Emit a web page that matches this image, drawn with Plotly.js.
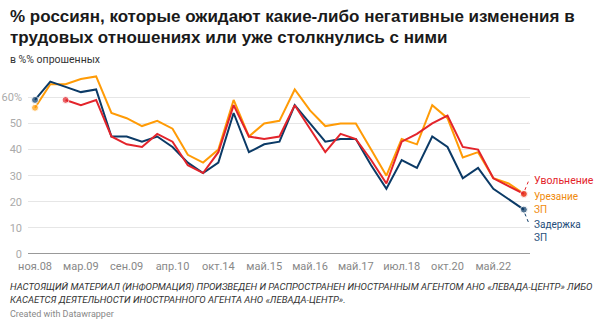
<!DOCTYPE html>
<html><head><meta charset="utf-8">
<script src="https://cdn.plot.ly/plotly-3.0.1.min.js"></script>
<style>html,body{margin:0;padding:0;background:#fff}#chart{width:595px;height:325px}</style>
</head><body><div id="chart"></div>
<script>
// survey index (one point per survey wave), tick labels every 3rd wave
const waveIndex = Array.from({length: 33}, (_, i) => i);
const tickPositions = [0, 3, 6, 9, 12, 15, 18, 21, 24, 27, 30];
const tickLabels = ["ноя.08","мар.09","сен.09","апр.10","окт.14","май.15","май.16","май.17","июл.18","окт.20","май.22"];

const uvolnenie = [null,null,59,57,59,45,42,41,46,43,34,31,39,57,45,44,45,57,48,39,46,44,36,27,43,46,50,53,41,40,29,26,23];
const urezanie  = [56,65,65,67,68,54,52,49,51,48,38,35,40,59,45,50,51,63,55,49,50,50,40,30,44,42,57,52,37,39,29,27,23];
const zaderzhka = [59,66,64,62,63,45,45,43,45,41,35,31,35,54,39,42,43,57,50,43,44,44,34,25,36,33,45,41,29,33,25,21,17];

const yTicks = [0,10,20,30,40,50,60];
const yTickText = ["0","10","20","30","40","50","60%"];

const C_RED = "#e3242b", C_ORANGE = "#ff9b06", C_BLUE = "#0b3a66";

function endSizes(arr){
  let first = arr.findIndex(v => v !== null), last = arr.length - 1;
  while (arr[last] === null) last--;
  return arr.map((v,i) => (i === first || i === last) ? 7 : 0);
}
function tr(y, color){
  return {x: waveIndex, y: y, type: "scatter", mode: "lines+markers",
    line: {color: color, width: 2}, marker: {color: color, size: endSizes(y)},
    cliponaxis: false, hoverinfo: "skip"};
}
const last = 32;
const font = "Roboto, 'Liberation Sans', Arial, sans-serif";
const ann = (x, y, text, color, xs, ys, size) => ({x: x, y: y, xref: "x", yref: "y", text: text, showarrow: false,
  xanchor: "left", yanchor: "middle", align: "left", xshift: xs, yshift: ys,
  font: {family: font, size: size || 10.5, color: color}});
const paperText = (ypx, text, opts) => Object.assign({xref: "paper", yref: "paper", x: -20/502, y: (254 - ypx)/188,
  xanchor: "left", yanchor: "middle", showarrow: false, text: text, align: "left"}, opts);
const titleFont = {family: "'Liberation Sans', Arial, sans-serif", size: 17, weight: 700, color: "#1a1a1a"};

const layout = {
  width: 595, height: 325,
  margin: {l: 28, r: 65, t: 66, b: 71, pad: 0},
  paper_bgcolor: "#fff", plot_bgcolor: "#fff",
  showlegend: false,
  xaxis: {range: [-0.46, 32.4], tickmode: "array", tickvals: tickPositions, ticktext: tickLabels,
    showgrid: false, zeroline: false, showline: false, ticks: "", ticklabelstandoff: 4,
    tickfont: {family: font, size: 11, color: "#888"}, fixedrange: true},
  yaxis: {range: [0, 72], tickmode: "array", tickvals: yTicks, ticktext: yTickText,
    showgrid: true, gridcolor: "#e6e6e6", gridwidth: 1, zeroline: false, showline: false, ticks: "",
    ticklabelstandoff: 5,
    tickfont: {family: font, size: 11, color: "#aaa"}, fixedrange: true},
  shapes: [
    {type: "line", xref: "paper", yref: "y", x0: 0, x1: 1, y0: 0, y1: 0, line: {color: "#999", width: 2}},
    {type: "line", xref: "x", yref: "y", xsizemode: "pixel", ysizemode: "pixel", xanchor: last, yanchor: uvolnenie[last],
      x0: 1, x1: 5.5, y0: 4, y1: 15, line: {color: C_RED, width: 1, dash: "dot"}},
    {type: "line", xref: "x", yref: "y", xsizemode: "pixel", ysizemode: "pixel", xanchor: last, yanchor: zaderzhka[last],
      x0: 1, x1: 5.5, y0: -4, y1: -15, line: {color: C_BLUE, width: 1, dash: "dot"}}
  ],
  annotations: [
    ann(last, uvolnenie[last], "Увольнение", C_RED, 8, 13, 10.5),
    ann(last, urezanie[last], "Урезание<br>ЗП", "#ef8a0c", 8, -9, 10),
    ann(last, zaderzhka[last], "Задержка<br>ЗП", "#1f4e7a", 8, -21, 10),
    paperText(17, "% россиян, которые ожидают какие-либо негативные изменения в", {font: titleFont}),
    paperText(38, "трудовых отношениях или уже столкнулись с ними", {font: titleFont}),
    paperText(59, "в %% опрошенных", {font: {family: font, size: 10.5, color: "#333"}}),
    paperText(287, "НАСТОЯЩИЙ МАТЕРИАЛ (ИНФОРМАЦИЯ) ПРОИЗВЕДЕН И РАСПРОСТРАНЕН ИНОСТРАННЫМ АГЕНТОМ АНО «ЛЕВАДА-ЦЕНТР» ЛИБО",
      {font: {family: font, size: 9.5, color: "#333", style: "italic"}}),
    paperText(299, "КАСАЕТСЯ ДЕЯТЕЛЬНОСТИ ИНОСТРАННОГО АГЕНТА АНО «ЛЕВАДА-ЦЕНТР».",
      {font: {family: font, size: 9.5, color: "#333", style: "italic"}}),
    paperText(314, "Created with Datawrapper", {font: {family: font, size: 9, color: "#888"}})
  ]
};

Plotly.newPlot("chart", [tr(urezanie, C_ORANGE), tr(zaderzhka, C_BLUE), tr(uvolnenie, C_RED)], layout,
  {displayModeBar: false, staticPlot: true});
</script></body></html>
